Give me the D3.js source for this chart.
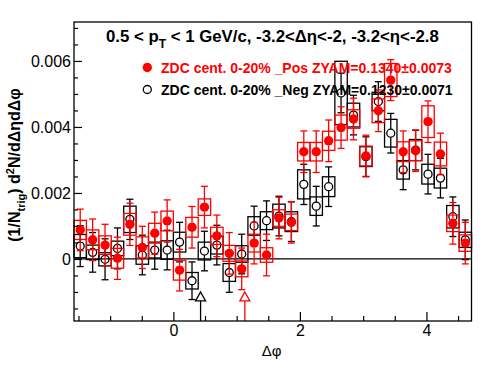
<!DOCTYPE html>
<html>
<head>
<meta charset="utf-8">
<script src="https://cdn.jsdelivr.net/npm/d3@7"></script>
<style>
body { margin: 0; background: #fff; }
text { font-family: "Liberation Sans", Arial, Helvetica, sans-serif; }
</style>
</head>
<body>
<svg id="chart" width="496" height="374"></svg>
<script>
// bin centres in delta-phi (32 bins over -pi/2 .. 3pi/2)
var dphi = [-1.4726, -1.2763, -1.0799, -0.8836, -0.6872, -0.4909, -0.2945, -0.0982,
            0.0982, 0.2945, 0.4909, 0.6872, 0.8836, 1.0799, 1.2763, 1.4726,
            1.6690, 1.8653, 2.0617, 2.2580, 2.4544, 2.6507, 2.8471, 3.0434,
            3.2398, 3.4361, 3.6325, 3.8288, 4.0252, 4.2215, 4.4179, 4.6142];
var binWidth = 0.19635;

// ZDC 0-20% _Pos (red, filled)
var posVal = [0.00088, 0.00058, 0.00042, 0.00002, 0.00105, 0.00035, 0.00078, 0.00115,
              -0.00034, 0.00096, 0.00157, 0.00070, 0.00017, -0.00030, 0.00048, 0.00012,
              0.00124, 0.00111, 0.00325, 0.00325, 0.00358, 0.00398, 0.00424, 0.00312,
              0.00449, 0.00542, 0.00325, 0.00328, 0.00416, 0.00318, 0.00108, 0.00048];
var posErr = [0.00063, 0.00063, 0.00063, 0.00064, 0.00064, 0.00064, 0.00064, 0.00064,
              0.00063, 0.00063, 0.00063, 0.00063, 0.00063, 0.00063, 0.00063, 0.00063,
              0.00063, 0.00063, 0.00063, 0.00063, 0.00063, 0.00063, 0.00063, 0.00063,
              0.00063, 0.00062, 0.00063, 0.00063, 0.00063, 0.00063, 0.00063, 0.00063];
var posSys = [0.00029, 0.00030, 0.00028, 0.00030, 0.00033, 0.00032, 0.00030, 0.00030,
              0.00030, 0.00030, 0.00025, 0.00026, 0.00024, 0.00024, 0.00027, 0.00022,
              0.00025, 0.00025, 0.00028, 0.00028, 0.00029, 0.00038, 0.00028, 0.00030,
              0.00036, 0.00050, 0.00030, 0.00030, 0.00048, 0.00036, 0.00025, 0.00025];

// ZDC 0-20% _Neg (black, open)
var negVal = [0.00039, 0.00020, -0.00001, 0.00032, 0.00120, 0.00012, 0.00027, 0.00027,
              0.00051, -0.00066, 0.00024, 0.00042, -0.00041, 0.00015, 0.00100, 0.00116,
              0.00130, 0.00113, 0.00226, 0.00160, 0.00219, 0.00503, 0.00436, 0.00310,
              0.00477, 0.00381, 0.00270, 0.00330, 0.00257, 0.00245, 0.00128, 0.00058];
var negErr = [0.00062, 0.00060, 0.00062, 0.00062, 0.00061, 0.00060, 0.00058, 0.00060,
              0.00060, 0.00057, 0.00060, 0.00060, 0.00060, 0.00060, 0.00060, 0.00060,
              0.00060, 0.00060, 0.00061, 0.00060, 0.00060, 0.00060, 0.00060, 0.00060,
              0.00060, 0.00060, 0.00060, 0.00060, 0.00060, 0.00060, 0.00060, 0.00060];
var negSys = [0.00035, 0.00022, 0.00020, 0.00022, 0.00040, 0.00028, 0.00024, 0.00028,
              0.00030, 0.00025, 0.00027, 0.00027, 0.00027, 0.00025, 0.00028, 0.00027,
              0.00036, 0.00030, 0.00044, 0.00028, 0.00030, 0.00096, 0.00036, 0.00030,
              0.00028, 0.00042, 0.00028, 0.00032, 0.00030, 0.00030, 0.00034, 0.00023];

// ZYAM minimum markers (arrows)
var arrowDphi = [0.43, 1.13];
var arrowColor = ["black", "red"];
var arrowTip = -0.001;

var xMajor = [0, 2, 4];
var xLabels = ["0", "2", "4"];
var yMajor = [0, 0.002, 0.004, 0.006];
var yLabels = ["0", "0.002", "0.004", "0.006"];

var legendText = ["ZDC cent. 0-20% _Pos ZYAM=0.1340\u00b10.0073",
                  "ZDC cent. 0-20% _Neg ZYAM=0.1230\u00b10.0071"];

(function() {
var svg = d3.select("#chart");
var pL = 74, pR = 471.5, pT = 22, pB = 321;

var x = d3.scaleLinear().domain([-Math.PI / 2, 3 * Math.PI / 2]).range([pL, pR]);
var y = d3.scaleLinear().domain([-0.00188, 0.00718]).range([pB, pT]);

var plot = svg.append("g");

// zero line
plot.append("line")
    .attr("x1", pL).attr("x2", pR)
    .attr("y1", y(0)).attr("y2", y(0))
    .attr("stroke", "black").attr("stroke-width", 1.2);

function drawSeries(vals, errs, sys, color, filled) {
  var g = plot.append("g");
  var pts = vals.map(function(v, i) { return {x: dphi[i], v: v, e: errs[i], s: sys[i]}; });
  var r = filled ? 4.7 : 4;

  // systematic boxes
  g.selectAll("rect.sys").data(pts).enter().append("rect")
      .attr("x", function(d) { return x(d.x - binWidth / 2); })
      .attr("width", function(d) { return x(d.x + binWidth / 2) - x(d.x - binWidth / 2); })
      .attr("y", function(d) { return y(d.v + d.s); })
      .attr("height", function(d) { return y(d.v - d.s) - y(d.v + d.s); })
      .attr("fill", "none").attr("stroke", color).attr("stroke-width", 1.3);

  // stat error bars, broken around the marker
  var eg = g.append("g").attr("stroke", color).attr("stroke-width", 1.3);
  pts.forEach(function(d) {
    var cx = x(d.x), cy = y(d.v), yt = y(d.v + d.e), yb = y(d.v - d.e);
    if (cy - r > yt) eg.append("line").attr("x1", cx).attr("x2", cx).attr("y1", yt).attr("y2", cy - r);
    if (cy + r < yb) eg.append("line").attr("x1", cx).attr("x2", cx).attr("y1", cy + r).attr("y2", yb);
    eg.append("line").attr("x1", cx - 3.5).attr("x2", cx + 3.5).attr("y1", yt).attr("y2", yt);
    eg.append("line").attr("x1", cx - 3.5).attr("x2", cx + 3.5).attr("y1", yb).attr("y2", yb);
  });
  return {g: g, pts: pts, r: r};
}

var neg = drawSeries(negVal, negErr, negSys, "black", false);
var pos = drawSeries(posVal, posErr, posSys, "red", true);

neg.g.selectAll("circle").data(neg.pts).enter().append("circle")
    .attr("cx", function(d) { return x(d.x); })
    .attr("cy", function(d) { return y(d.v); })
    .attr("r", neg.r)
    .attr("fill", "none").attr("stroke", "black").attr("stroke-width", 1.3);

pos.g.selectAll("circle").data(pos.pts).enter().append("circle")
    .attr("cx", function(d) { return x(d.x); })
    .attr("cy", function(d) { return y(d.v); })
    .attr("r", pos.r)
    .attr("fill", "red");

// arrows
arrowDphi.forEach(function(a, i) {
  var ax = x(a), tipY = y(arrowTip), baseY = tipY + 9;
  plot.append("line").attr("x1", ax).attr("x2", ax).attr("y1", pB).attr("y2", baseY)
      .attr("stroke", arrowColor[i]).attr("stroke-width", 1.3);
  plot.append("path")
      .attr("d", "M" + ax + "," + tipY + "L" + (ax + 5) + "," + baseY + "L" + (ax - 5) + "," + baseY + "Z")
      .attr("fill", "white").attr("stroke", arrowColor[i]).attr("stroke-width", 1.3);
});

// axes
var xMinor = d3.range(-1.5, 4.75, 0.5).filter(function(t) { return xMajor.indexOf(t) < 0; });
var yMinor = d3.range(-0.0015, 0.0071, 0.0005).filter(function(t) {
  return !yMajor.some(function(m) { return Math.abs(m - t) < 1e-9; });
});

var xAxis = svg.append("g").attr("transform", "translate(0," + pB + ")")
    .call(d3.axisBottom(x).tickValues(xMajor).tickSize(-9).tickPadding(4)
      .tickFormat(function(d, i) { return xLabels[i]; }));
svg.append("g").attr("transform", "translate(0," + pB + ")")
    .call(d3.axisBottom(x).tickValues(xMinor).tickSize(-5).tickFormat(""))
    .select(".domain").remove();

var yAxis = svg.append("g").attr("transform", "translate(" + pL + ",0)")
    .call(d3.axisLeft(y).tickValues(yMajor).tickSize(-8).tickPadding(3)
      .tickFormat(function(d, i) { return yLabels[i]; }));
svg.append("g").attr("transform", "translate(" + pL + ",0)")
    .call(d3.axisLeft(y).tickValues(yMinor).tickSize(-4).tickFormat(""))
    .select(".domain").remove();

xAxis.select(".domain").remove();
yAxis.select(".domain").remove();
svg.selectAll(".tick line").attr("stroke", "black").attr("stroke-width", 1.2);
svg.selectAll(".tick text").attr("font-size", 16).attr("fill", "black")
    .style("font-family", "'Liberation Sans', Arial, sans-serif");

// frame
svg.append("rect").attr("x", pL).attr("y", pT)
    .attr("width", pR - pL).attr("height", pB - pT)
    .attr("fill", "none").attr("stroke", "black").attr("stroke-width", 1.3);

// title
var title = svg.append("text").attr("x", 106).attr("y", 42)
    .attr("font-size", 16.8).attr("font-weight", "bold");
title.append("tspan").text("0.5 < p");
title.append("tspan").attr("font-size", 12).attr("dy", 6).text("T");
title.append("tspan").attr("dy", -6).text(" < 1 GeV/c, -3.2<\u0394\u03b7<-2, -3.2<\u03b7<-2.8");

// legend
var legY = [67.5, 89.5];
svg.append("circle").attr("cx", 147.3).attr("cy", legY[0]).attr("r", 4.7).attr("fill", "red");
svg.append("circle").attr("cx", 147.3).attr("cy", legY[1]).attr("r", 4)
    .attr("fill", "none").attr("stroke", "black").attr("stroke-width", 1.3);
svg.append("text").attr("x", 161).attr("y", legY[0] + 5).attr("font-size", 14)
    .attr("font-weight", "bold").attr("fill", "red").text(legendText[0]);
svg.append("text").attr("x", 161).attr("y", legY[1] + 5).attr("font-size", 14)
    .attr("font-weight", "bold").attr("fill", "black").text(legendText[1]);

// axis titles
svg.append("text").attr("x", 271.7).attr("y", 356).attr("text-anchor", "middle")
    .attr("font-size", 15).text("\u0394\u03c6");

var yt = svg.append("text").attr("transform", "translate(20,165) rotate(-90)")
    .attr("text-anchor", "middle").attr("font-size", 16).attr("font-weight", "bold");
yt.append("tspan").text("(1/N");
yt.append("tspan").attr("font-size", 11).attr("dy", 5).text("trig");
yt.append("tspan").attr("dy", -5).text(") d");
yt.append("tspan").attr("font-size", 11).attr("dy", -6).text("2");
yt.append("tspan").attr("dy", 6).text("N/d\u0394\u03b7d\u0394\u03c6");
})();
</script>
</body>
</html>
